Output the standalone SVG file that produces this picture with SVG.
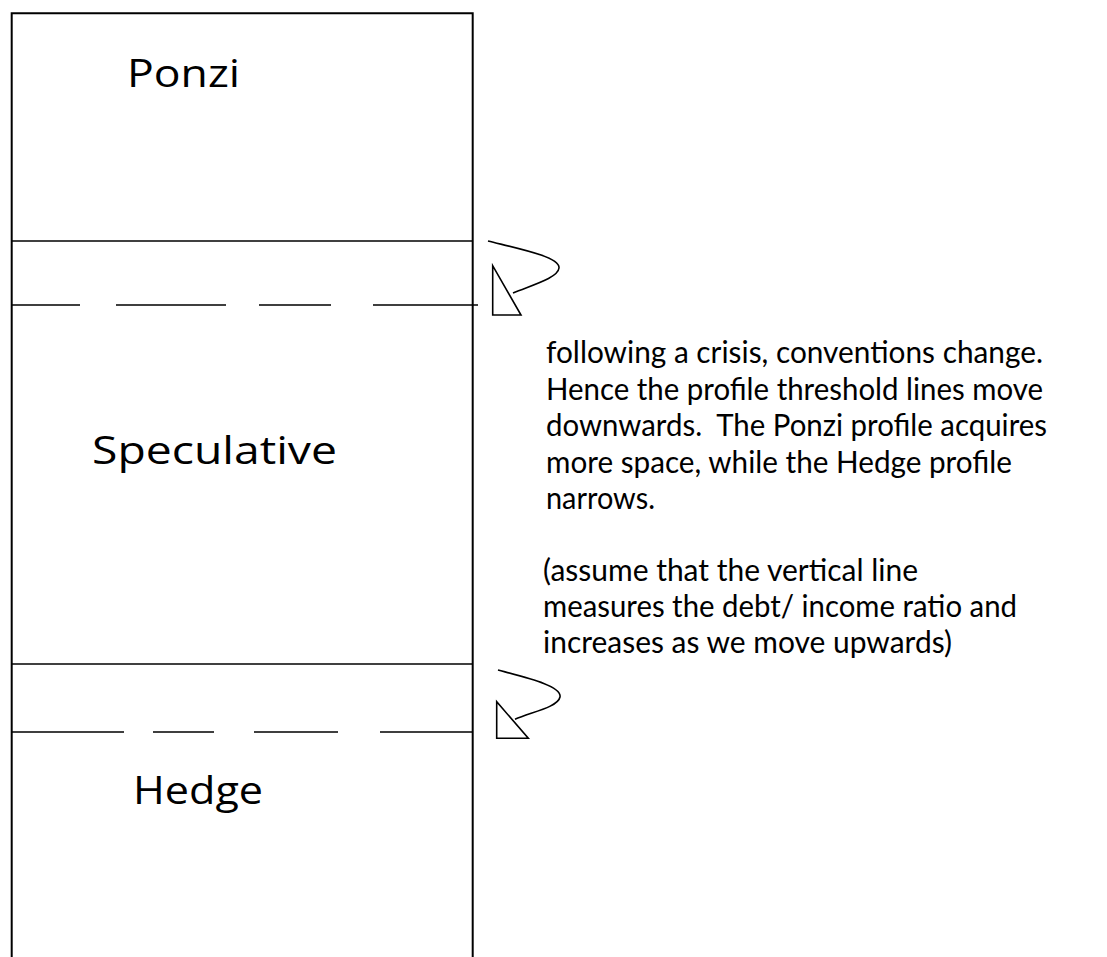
<svg xmlns="http://www.w3.org/2000/svg" width="1107" height="957" viewBox="0 0 1107 957">
<style>
.box{fill:none;stroke:#000;stroke-width:2}
.ln{stroke:#000;stroke-width:1.6;fill:none}
.arr{stroke:#000;stroke-width:1.6;fill:none;stroke-linejoin:miter}
.lbl{font-family:"Open Sans",Lato,sans-serif;font-size:38px;fill:#000}
.txt{font-family:Lato,"Open Sans",sans-serif;font-size:30px;fill:#000}
</style>
<rect width="1107" height="957" fill="#fff"/>
<g id="frame">
<path class="box" d="M11.7,960 V13.3 H472.7 V960"/>
</g>
<g id="ponzi">
<text class="lbl" x="127" y="87" textLength="113" lengthAdjust="spacingAndGlyphs">Ponzi</text>
</g>
<g id="speculative">
<text class="lbl" x="92" y="464" textLength="245" lengthAdjust="spacingAndGlyphs">Speculative</text>
</g>
<g id="hedge">
<text class="lbl" x="133" y="804" textLength="130" lengthAdjust="spacingAndGlyphs">Hedge</text>
</g>
<g id="connectors">
<line class="ln" x1="11.7" y1="241" x2="472.7" y2="241"/>
<path class="ln" d="M11.7,305 H80 M116,305 H226 M259,305 H331 M373,305 H478"/>
<line class="ln" x1="11.7" y1="664" x2="472.7" y2="664"/>
<path class="ln" d="M11.7,732 H124 M153,732 H214 M254,732 H338 M380,732 H472.7"/>
<path class="arr" d="M488,241 C520,249 560,257 559,268 C558,278 532,285 513,293"/>
<polygon class="arr" points="492.7,265.7 492.7,315 521,315"/>
<path class="arr" d="M498,670 C528,678 562,686 560,697 C558,707 532,712 515,719.3"/>
<polygon class="arr" points="496.7,701.7 496.7,738.3 528.3,738.3"/>
</g>
<g id="note">
<text class="txt" x="546" y="363" textLength="497" lengthAdjust="spacingAndGlyphs">following a crisis, conventions change.</text>
<text class="txt" x="546" y="400" textLength="497" lengthAdjust="spacingAndGlyphs">Hence the profile threshold lines move</text>
<text class="txt" x="546" y="436" textLength="501" lengthAdjust="spacingAndGlyphs" xml:space="preserve">downwards.  The Ponzi profile acquires</text>
<text class="txt" x="546" y="473" textLength="466" lengthAdjust="spacingAndGlyphs">more space, while the Hedge profile</text>
<text class="txt" x="546" y="509" textLength="109" lengthAdjust="spacingAndGlyphs">narrows.</text>
<text class="txt" x="543" y="581" textLength="375" lengthAdjust="spacingAndGlyphs">(assume that the vertical line</text>
<text class="txt" x="543" y="617" textLength="474" lengthAdjust="spacingAndGlyphs">measures the debt/ income ratio and</text>
<text class="txt" x="543" y="653" textLength="409" lengthAdjust="spacingAndGlyphs">increases as we move upwards)</text>
</g>
</svg>
